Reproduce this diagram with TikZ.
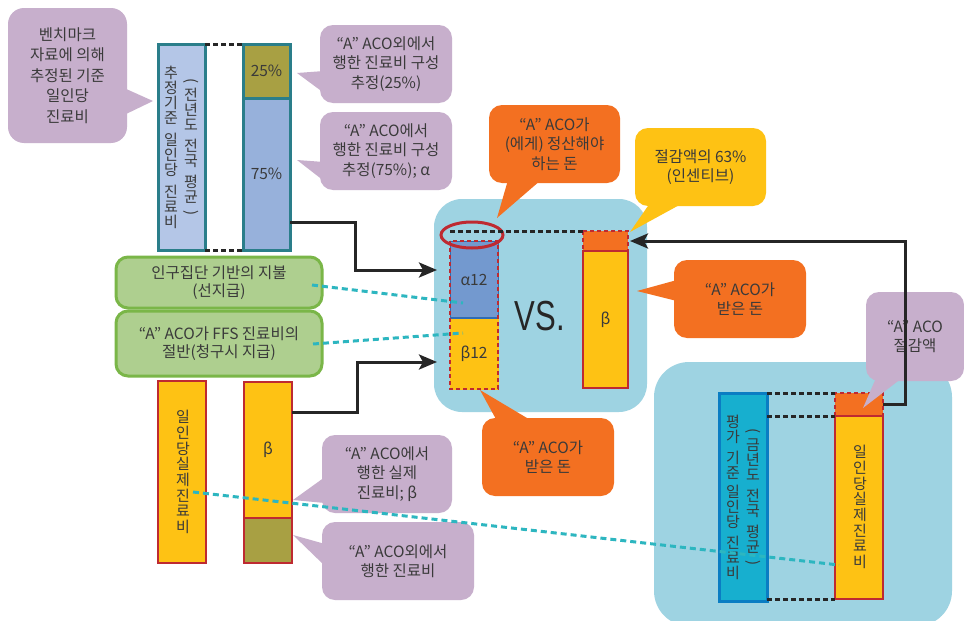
\documentclass[tikz,border=0pt]{standalone}
\usepackage{fontspec}
\setmainfont{Noto Sans CJK KR}
\newfontfamily\vsfont{Liberation Sans}
\usetikzlibrary{arrows.meta,shapes.geometric}
\definecolor{purp}{HTML}{C7AFCC}
\definecolor{orng}{HTML}{F37021}
\definecolor{yel}{HTML}{FEC214}
\definecolor{regbl}{HTML}{9ED3E2}
\definecolor{gfill}{HTML}{AECF8F}
\definecolor{gdraw}{HTML}{7AB648}
\definecolor{teal}{HTML}{2A7E8A}
\definecolor{lblue}{HTML}{B4C6E7}
\definecolor{mblue}{HTML}{97B1DB}
\definecolor{olive}{HTML}{A8A043}
\definecolor{ablue}{HTML}{7399CF}
\definecolor{dblue}{HTML}{2F6CB5}
\definecolor{redc}{HTML}{BE2A31}
\definecolor{cyanl}{HTML}{2DB6C0}
\definecolor{evfill}{HTML}{17AFCF}
\definecolor{evdraw}{HTML}{0A7DC3}
\definecolor{txt}{HTML}{3A3A3A}
\tikzset{
  box/.style={inner sep=0pt, outer sep=0pt, anchor=north west},
  callP/.style={box, fill=purp, rounded corners=13pt, align=center},
  callO/.style={box, fill=orng, rounded corners=13pt, align=center},
  callY/.style={box, fill=yel, rounded corners=13pt, align=center},
  region/.style={box, fill=regbl},
  tbox/.style={box, draw=teal, line width=3pt},
  ybox/.style={box, fill=yel, draw=redc, line width=2.8pt},
  gbox/.style={box, fill=gfill, draw=gdraw, line width=3pt, rounded corners=12pt, align=center, font=\fontsize{15.5}{18.5}\selectfont},
  reddash/.style={draw=redc, line width=2.6pt, dash pattern=on 4pt off 3pt},
  bdash/.style={draw=black!85, line width=3pt, dash pattern=on 5pt off 3pt},
  cdash/.style={draw=cyanl, line width=3pt, dash pattern=on 6pt off 4pt},
  arr/.style={draw=black!85, line width=3pt, -{Stealth[length=18pt,width=15pt,inset=4pt]}},
  vcol/.style={inner sep=0pt, align=center, font=\fontsize{15}{15}\selectfont},
  vcolb/.style={inner sep=0pt, align=center, font=\fontsize{15}{15.7}\selectfont}
}
\newcommand{\vop}{\rotatebox[origin=c]{-90}{(}}
\newcommand{\vcp}{\rotatebox[origin=c]{-90}{)}}
\begin{document}
\begin{tikzpicture}[x=1pt,y=-1pt, text=txt, font=\fontsize{15.5}{19.5}\selectfont]
\useasboundingbox (0,0) rectangle (964,621);
\fill[white] (0,0) rectangle (964,621);

% regions
\node[region, rounded corners=28pt, minimum width=213pt, minimum height=213pt] (midreg) at (434,199) {};
\node[region, rounded corners=35pt, minimum width=298pt, minimum height=264pt] (rreg) at (654,362) {};

% top-left callout
\node[callP, rounded corners=16pt, minimum width=119pt, minimum height=135pt, font=\fontsize{15.5}{20.5}\selectfont] (c1) at (8,8) {벤치마크\\자료에 의해\\추정된 기준\\일인당\\진료비};
\coordinate (c1tip) at (153,101);
\fill[purp] (c1tip) -- (124,88) -- (124,115) -- cycle;

% estimated cost column
\node[tbox, fill=lblue, minimum width=47pt, minimum height=206pt] (est) at (158,44) {};
\node[vcol] (estA) at (171,147) {추\\정\\기\\준\\[7pt]일\\인\\당\\[7pt]진\\료\\비};
\node[vcol] (estB) at (191,148) {\vop\\전\\년\\도\\[6pt]전\\국\\[6pt]평\\균\\\vcp};
\node[tbox, fill=olive, minimum width=47pt, minimum height=54pt] (p25) at (243,44) {25\%};
\node[tbox, fill=mblue, minimum width=47pt, minimum height=152pt] (p75) at (243,98) {75\%};
\draw[bdash] (est.north east) -- (p25.north west);
\draw[bdash] (est.south east) -- (p75.south west);

% callouts 25 / 75
\node[callP, minimum width=132pt, minimum height=78pt] (c25) at (320,25) {“A” ACO외에서\\행한 진료비 구성\\추정(25\%)};
\coordinate (c25tip) at (297,73);
\fill[purp] (c25tip) -- (324,71) -- (324,93) -- cycle;
\node[callP, minimum width=132pt, minimum height=78pt] (c75) at (320,112) {“A” ACO에서\\행한 진료비 구성\\추정(75\%); α};
\coordinate (c75tip) at (297,160);
\fill[purp] (c75tip) -- (324,162) -- (324,181) -- cycle;

% orange top callout
\node[callO, minimum width=131pt, minimum height=78pt] (cpay) at (489,105) {“A” ACO가\\(에게) 정산해야\\하는 돈};
\coordinate (cpaytip) at (497,218);
\fill[orng] (cpaytip) -- (508,180) -- (541,180) -- cycle;

% yellow callout
\node[callY, minimum width=131pt, minimum height=78pt] (cinc) at (635,128) {절감액의 63\%\\(인센티브)};
\coordinate (cinctip) at (630,232);
\fill[yel] (cinctip) -- (650,203) -- (683,203) -- cycle;

% center left bar
\node[box, fill=ablue, draw=dblue, line width=1pt, minimum width=48pt, minimum height=77pt] (a12) at (450,241) {α12};
\node[box, fill=yel, draw=yel, line width=1pt, minimum width=48pt, minimum height=71pt] (b12) at (450,318) {β12};
\draw[dblue, line width=1.2pt] (a12.south west) -- (a12.south east);
\draw[reddash] (a12.north west) rectangle (b12.south east);
\node[draw=redc, line width=3pt, ellipse, minimum width=62pt, minimum height=26pt, inner sep=0pt] (ell) at (472,235) {};

% center right bar
\node[box, fill=orng, minimum width=45pt, minimum height=20pt] (sav) at (583,231) {};
\draw[reddash] (sav.north west) rectangle (sav.south east);
\node[ybox, minimum width=45pt, minimum height=137pt] (recv) at (583,251) {β};
\draw[bdash] (a12.north west |- sav.north west) -- (sav.north west);

\node[font=\vsfont\fontsize{42}{42}\selectfont, text=black!85] (vs) at (540,316) {\scalebox{0.74}[1]{VS.}};

% green boxes
\node[gbox, minimum width=206pt, minimum height=51pt] (g1) at (116,257) {인구집단 기반의 지불\\(선지급)};
\node[gbox, minimum width=206pt, minimum height=65pt] (g2) at (116,311) {“A” ACO가 FFS 진료비의\\절반(청구시 지급)};

% bottom-left bars
\node[ybox, minimum width=48pt, minimum height=182pt] (act) at (158,381) {};
\node[vcolb] (actT) at (183,472) {일\\인\\당\\실\\제\\진\\료\\비};
\node[ybox, minimum width=48pt, minimum height=136pt] (bL) at (244,382) {β};
\node[ybox, fill=olive, minimum width=48pt, minimum height=45pt] (oL) at (244,518) {};

% bottom purple callouts
\node[callP, minimum width=130pt, minimum height=78pt] (cact) at (322,435) {“A” ACO에서\\행한 실제\\진료비; β};
\coordinate (cacttip) at (293,500);
\fill[purp] (cacttip) -- (325,477) -- (325,503) -- cycle;
\node[callP, minimum width=152pt, minimum height=78pt] (cout) at (322,522) {“A” ACO외에서\\행한 진료비};
\coordinate (couttip) at (293,535);
\fill[purp] (couttip) -- (325,544) -- (325,566) -- cycle;

% orange callouts "received"
\node[callO, minimum width=132pt, minimum height=78pt] (crecv) at (482,418) {“A” ACO가\\받은 돈};
\coordinate (crecvtip) at (480,390);
\fill[orng] (crecvtip) -- (497,421) -- (532,421) -- cycle;
\node[callO, minimum width=132pt, minimum height=78pt] (crecvb) at (674,260) {“A” ACO가\\받은 돈};
\coordinate (crecvbtip) at (637,291);
\fill[orng] (crecvbtip) -- (677,280) -- (677,301) -- cycle;

% bottom-right group
\node[box, fill=evfill, draw=evdraw, line width=3pt, minimum width=48pt, minimum height=208pt] (eval) at (719,393) {};
\node[vcol] (evalA) at (733,497) {평\\가\\[6pt]기\\준\\[4pt]일\\인\\당\\[6pt]진\\료\\비};
\node[vcol] (evalB) at (753,498) {\vop\\금\\년\\도\\[6pt]전\\국\\[6pt]평\\균\\\vcp};
\node[box, fill=orng, minimum width=48pt, minimum height=23pt] (sav2) at (835,393) {};
\draw[reddash] (sav2.south west) -- (sav2.north west) -- (sav2.north east) -- (sav2.south east);
\node[ybox, minimum width=48pt, minimum height=183pt] (act2) at (835,416) {};
\node[vcolb] (act2T) at (860,507) {일\\인\\당\\실\\제\\진\\료\\비};
\draw[bdash] (eval.north east) -- (sav2.north west);
\draw[bdash] (eval.east |- sav2.south west) -- (sav2.south west);
\draw[bdash] (eval.east |- act2.south west) -- (act2.south west);

% savings callout
\node[callP, minimum width=98pt, minimum height=89pt] (csav) at (866,292) {“A” ACO\\절감액};
\coordinate (csavtip) at (863,408);
\fill[purp] (csavtip) -- (876,378) -- (902,378) -- cycle;

% arrows
\coordinate (in1) at (437,270);
\coordinate (in2) at (437,362);
\draw[arr] (p75.east |- 0,222) -| (355,270) -- (in1);
\draw[arr] (bL.east |- 0,412) -| (357,362) -- (in2);
\draw[arr] (sav2.east) -| (905,241) -- ([xshift=2pt]sav.east);

% cyan dashed connectors
\coordinate (g1e) at (312,285);
\coordinate (a12p) at (463,303);
\coordinate (g2e) at (313,344);
\coordinate (b12p) at (463,333);
\coordinate (actp) at (193,492);
\coordinate (act2p) at (839,565);
\draw[cdash] (g1e) -- (a12p);
\draw[cdash] (g2e) -- (b12p);
\draw[cdash] (actp) -- (act2p);
\end{tikzpicture}
\end{document}
